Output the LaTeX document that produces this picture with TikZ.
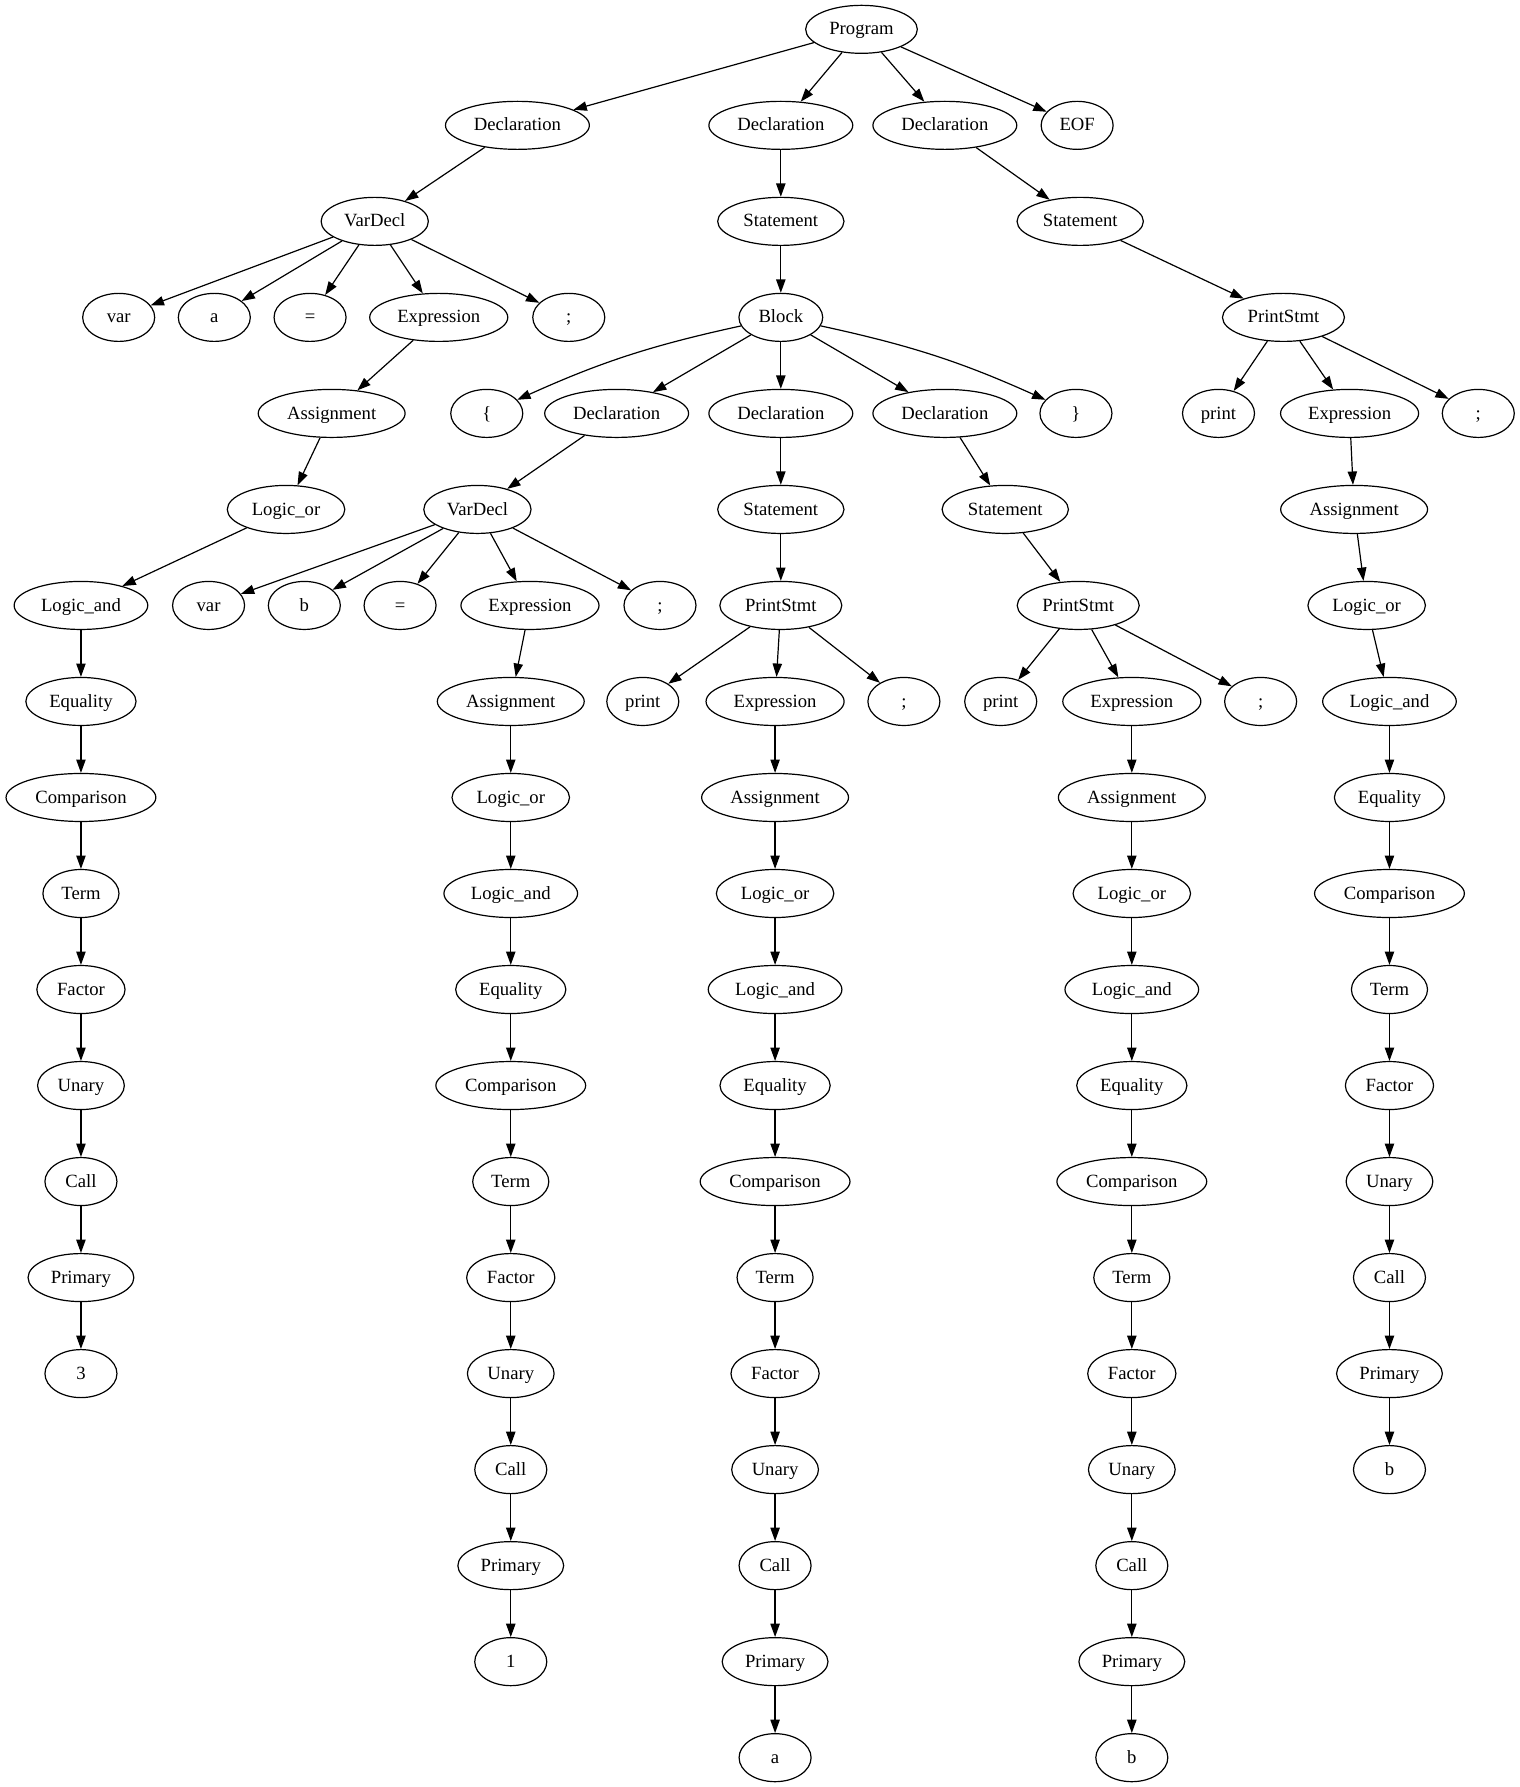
\documentclass[tikz,border=0pt]{standalone}
\usepackage{fontspec}
\setmainfont{Liberation Serif}
\usetikzlibrary{shapes.geometric,arrows.meta}
\begin{document}
\begin{tikzpicture}[x=1pt,y=-1pt,
  nd/.style={ellipse,draw,line width=0.9pt,inner xsep=5.5pt,inner ysep=0pt,
    text height=11pt,text depth=2.6pt,
    minimum height=36pt,minimum width=54pt,font=\fontsize{14}{16}\selectfont},
  ed/.style={line width=0.9pt,-{Triangle[length=10pt,width=7pt]}}]
\useasboundingbox (0,0) rectangle (1139.25,1340);
% row 0-1
\node[nd] (prog) at (646,22) {Program};
\node[nd] (d1) at (388,94) {Declaration};
\node[nd] (d2) at (585.5,94) {Declaration};
\node[nd] (d3) at (708.5,94) {Declaration};
\node[nd] (eof) at (807.7,94) {EOF};
% row 2
\node[nd] (vd1) at (281,166) {VarDecl};
\node[nd] (s2) at (585.5,166) {Statement};
\node[nd] (s3) at (810,166) {Statement};
% row 3
\node[nd] (var1) at (89,238) {var};
\node[nd] (a1) at (160.7,238) {a};
\node[nd] (eq1) at (232.5,238) {=};
\node[nd] (ex1) at (329,238) {Expression};
\node[nd] (sc1) at (426.5,238) {;};
\node[nd] (blk) at (585.5,238) {Block};
\node[nd] (ps3) at (962.4,238) {PrintStmt};
% row 4
\node[nd] (as1) at (248.7,310) {Assignment};
\node[nd] (lb) at (365,310) {\{};
\node[nd] (d4) at (462.4,310) {Declaration};
\node[nd] (d5) at (585.5,310) {Declaration};
\node[nd] (d6) at (708.5,310) {Declaration};
\node[nd] (rb) at (806.8,310) {\}};
\node[nd] (pr3) at (913.7,310) {print};
\node[nd] (ex3) at (1012,310) {Expression};
\node[nd] (sc3) at (1108.5,310) {;};
% row 5
\node[nd] (lo1) at (214.5,382) {Logic\_or};
\node[nd] (vd2) at (358,382) {VarDecl};
\node[nd] (s5) at (585.5,382) {Statement};
\node[nd] (s6) at (753.8,382) {Statement};
\node[nd] (as3) at (1015.4,382) {Assignment};
% row 6
\node[nd] (A6) at (60.7,454) {Logic\_and};
\node[nd] (var2) at (156.4,454) {var};
\node[nd] (b2) at (228.2,454) {b};
\node[nd] (eq2) at (300,454) {=};
\node[nd] (ex2) at (397.4,454) {Expression};
\node[nd] (sc2) at (494.9,454) {;};
\node[nd] (ps5) at (585.5,454) {PrintStmt};
\node[nd] (ps6) at (808.5,454) {PrintStmt};
\node[nd] (lo3) at (1024.8,454) {Logic\_or};
% row 7
\node[nd] (pr5) at (482,526) {print};
\node[nd] (C7) at (581.2,526) {Expression};
\node[nd] (sc5) at (677.8,526) {;};
\node[nd] (pr6) at (750.4,526) {print};
\node[nd] (D7) at (848.7,526) {Expression};
\node[nd] (sc6) at (945.3,526) {;};
\node[nd] (E7) at (1041.9,526) {Logic\_and};
% column chains
\foreach \t [count=\i from 7] in {Equality,Comparison,Term,Factor,Unary,Call,Primary,3}
  \node[nd] (A\i) at (60.7,{22+72*\i}) {\t};
\foreach \t [count=\i from 7] in {Assignment,Logic\_or,Logic\_and,Equality,Comparison,Term,Factor,Unary,Call,Primary,1}
  \node[nd] (B\i) at (383,{22+72*\i}) {\t};
\foreach \t [count=\i from 8] in {Assignment,Logic\_or,Logic\_and,Equality,Comparison,Term,Factor,Unary,Call,Primary,a}
  \node[nd] (C\i) at (581.2,{22+72*\i}) {\t};
\foreach \t [count=\i from 8] in {Assignment,Logic\_or,Logic\_and,Equality,Comparison,Term,Factor,Unary,Call,Primary,b}
  \node[nd] (D\i) at (848.7,{22+72*\i}) {\t};
\foreach \t [count=\i from 8] in {Equality,Comparison,Term,Factor,Unary,Call,Primary,b}
  \node[nd] (E\i) at (1041.9,{22+72*\i}) {\t};
% edges
\foreach \h in {d1,d2,d3,eof} \draw[ed] (prog) -- (\h);
\draw[ed] (d1) -- (vd1);
\foreach \h in {var1,a1,eq1,ex1,sc1} \draw[ed] (vd1) -- (\h);
\draw[ed] (ex1) -- (as1);
\draw[ed] (as1) -- (lo1);
\draw[ed] (lo1) -- (A6);
\foreach \i [evaluate=\i as \j using int(\i+1)] in {6,...,13} \draw[ed] (A\i) -- (A\j);
\draw[ed] (d2) -- (s2);
\draw[ed] (s2) -- (blk);
\draw[ed] (blk) to[bend right=6] (lb);
\foreach \h in {d4,d5,d6} \draw[ed] (blk) -- (\h);
\draw[ed] (blk) to[bend left=6] (rb);
\draw[ed] (d4) -- (vd2);
\foreach \h in {var2,b2,eq2,ex2,sc2} \draw[ed] (vd2) -- (\h);
\draw[ed] (ex2) -- (B7);
\foreach \i [evaluate=\i as \j using int(\i+1)] in {7,...,16} \draw[ed] (B\i) -- (B\j);
\draw[ed] (d5) -- (s5);
\draw[ed] (s5) -- (ps5);
\foreach \h in {pr5,C7,sc5} \draw[ed] (ps5) -- (\h);
\foreach \i [evaluate=\i as \j using int(\i+1)] in {7,...,17} \draw[ed] (C\i) -- (C\j);
\draw[ed] (d6) -- (s6);
\draw[ed] (s6) -- (ps6);
\foreach \h in {pr6,D7,sc6} \draw[ed] (ps6) -- (\h);
\foreach \i [evaluate=\i as \j using int(\i+1)] in {7,...,17} \draw[ed] (D\i) -- (D\j);
\draw[ed] (d3) -- (s3);
\draw[ed] (s3) -- (ps3);
\foreach \h in {pr3,ex3,sc3} \draw[ed] (ps3) -- (\h);
\draw[ed] (ex3) -- (as3);
\draw[ed] (as3) -- (lo3);
\draw[ed] (lo3) -- (E7);
\foreach \i [evaluate=\i as \j using int(\i+1)] in {7,...,14} \draw[ed] (E\i) -- (E\j);
\end{tikzpicture}
\end{document}
